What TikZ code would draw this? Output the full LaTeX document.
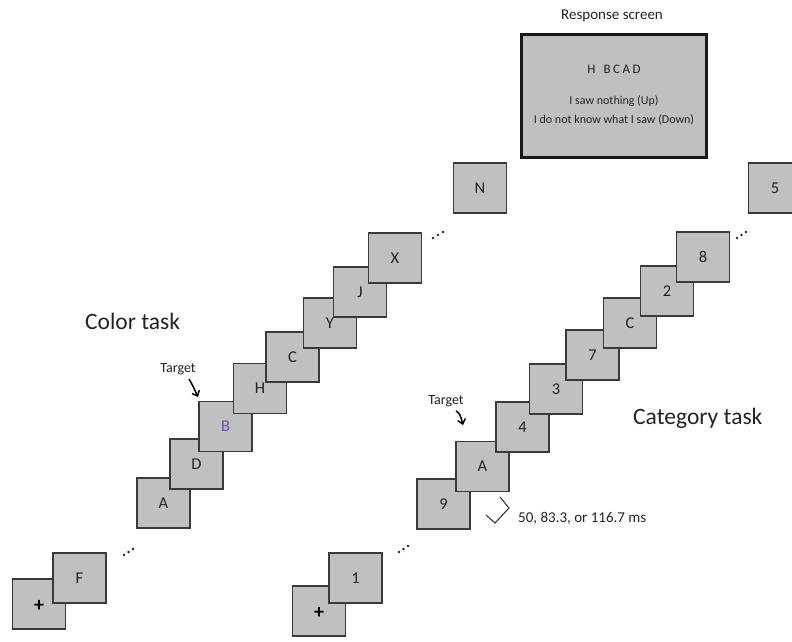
\documentclass[tikz,border=0pt]{standalone}
\usepackage{fontspec}
\setmainfont{Carlito}
\usetikzlibrary{arrows.meta}
\definecolor{boxfill}{RGB}{192,192,192}
\definecolor{boxline}{RGB}{58,58,58}
\definecolor{txt}{RGB}{35,35,35}
\definecolor{tgt}{RGB}{112,82,165}
\begin{document}
\begin{tikzpicture}[x=1pt,y=-1pt,
  frame/.style={draw=boxline, fill=boxfill, line width=1.5pt, minimum width=53pt, minimum height=50pt, inner sep=0pt, font=\fontsize{16.5}{18}\selectfont, text=txt},
  plus/.style={font=\fontsize{20}{22}\selectfont\bfseries},
  title/.style={font=\fontsize{23.5}{28}\selectfont, text=txt, anchor=west, inner sep=0pt},
  small/.style={font=\fontsize{12}{14}\selectfont, text=txt, inner sep=0pt},
  label/.style={font=\fontsize{15}{18}\selectfont, text=txt, inner sep=0pt},
  tlabel/.style={font=\fontsize{14}{16}\selectfont, text=txt, inner sep=0pt},
  tarrow/.style={line width=1.5pt, black, -{Straight Barb[length=4.5pt,width=8pt]}},
  dot/.style={fill=txt}]
\useasboundingbox (0,0) rectangle (792,642);
\begin{scope}
\clip (0,0) rectangle (792,642);
% Color task chain
\node[frame] (lp) at (39,604) {};
\node[plus] (lpt) at (39,606) {+};
\node[frame] (lF) at (79.5,578) {F};
\node[frame] (lA) at (163.5,503) {A};
\node[frame] (lD) at (196.5,464) {D};
\node[frame, text=tgt] (lB) at (225.5,426.5) {B};
\node[frame] (lH) at (260,388.5) {H};
\node[frame] (lC) at (292.5,357) {C};
\node[frame] (lY) at (330,323) {Y};
\node[frame] (lJ) at (360,292) {J};
\node[frame] (lX) at (395,258) {X};
\node[frame] (lN) at (480,188) {N};
% Category task chain
\node[frame] (rp) at (319,611) {};
\node[plus] (rpt) at (319,613) {+};
\node[frame] (r1) at (355.5,578) {1};
\node[frame] (r9) at (443.5,504) {9};
\node[frame] (rA) at (482.5,466.5) {A};
\node[frame] (r4) at (522.5,427) {4};
\node[frame] (r3) at (556,389) {3};
\node[frame] (r7) at (592.5,355) {7};
\node[frame] (rC) at (630,323) {C};
\node[frame] (r2) at (667,291) {2};
\node[frame] (r8) at (703,257) {8};
\node[frame] (r5) at (775,188) {5};
\end{scope}
% ellipses
\foreach \x/\y in {124/555,128.5/552,133/549, 399/552,403.5/549,408/546, 433/238,438/235,443/232, 737/238,741.5/235,746/232}
  \fill[dot] (\x,\y) circle (1.3pt);
% titles
\node[title] (ct) at (85,321) {Color task};
\node[title] (kt) at (633,418) {Category task};
% targets
\node[tlabel] (tgl) at (178,369) {Target};
\coordinate (tgle) at (198,397);
\draw[tarrow] ([shift={(11,4)}]tgl.south) .. controls (193,386) .. (tgle);
\node[tlabel] (tgr) at (446,401) {Target};
\coordinate (tgre) at (463,425);
\draw[tarrow] ([shift={(10,4)}]tgr.south) .. controls (460,414) .. (tgre);
% duration bracket
\coordinate (b1) at (486,515);
\coordinate (b2) at (495,523);
\coordinate (b3) at (509,508);
\coordinate (b4) at (500,497);
\draw[boxline, line width=1.1pt] (b1) -- (b2) -- (b3) -- (b4);
\node[label] (dur) at (518,518) [anchor=west] {50, 83.3, or 116.7 ms};
% response screen
\node[label] (rst) at (612,16) {Response screen};
\node[draw=black!90, fill=boxfill, line width=3pt, minimum width=185pt, minimum height=122pt, inner sep=0pt] (rs) at (613.5,96) {};
\node[small, font=\fontsize{13}{14}\selectfont] (rs1) at (614,69) {H\hspace{8pt}B\hspace{2.5pt}C\hspace{2.5pt}A\hspace{2.5pt}D};
\node[small] (rs2) at (614,101) {I saw nothing (Up)};
\node[small] (rs3) at (614,120) {I do not know what I saw (Down)};
\end{tikzpicture}
\end{document}
